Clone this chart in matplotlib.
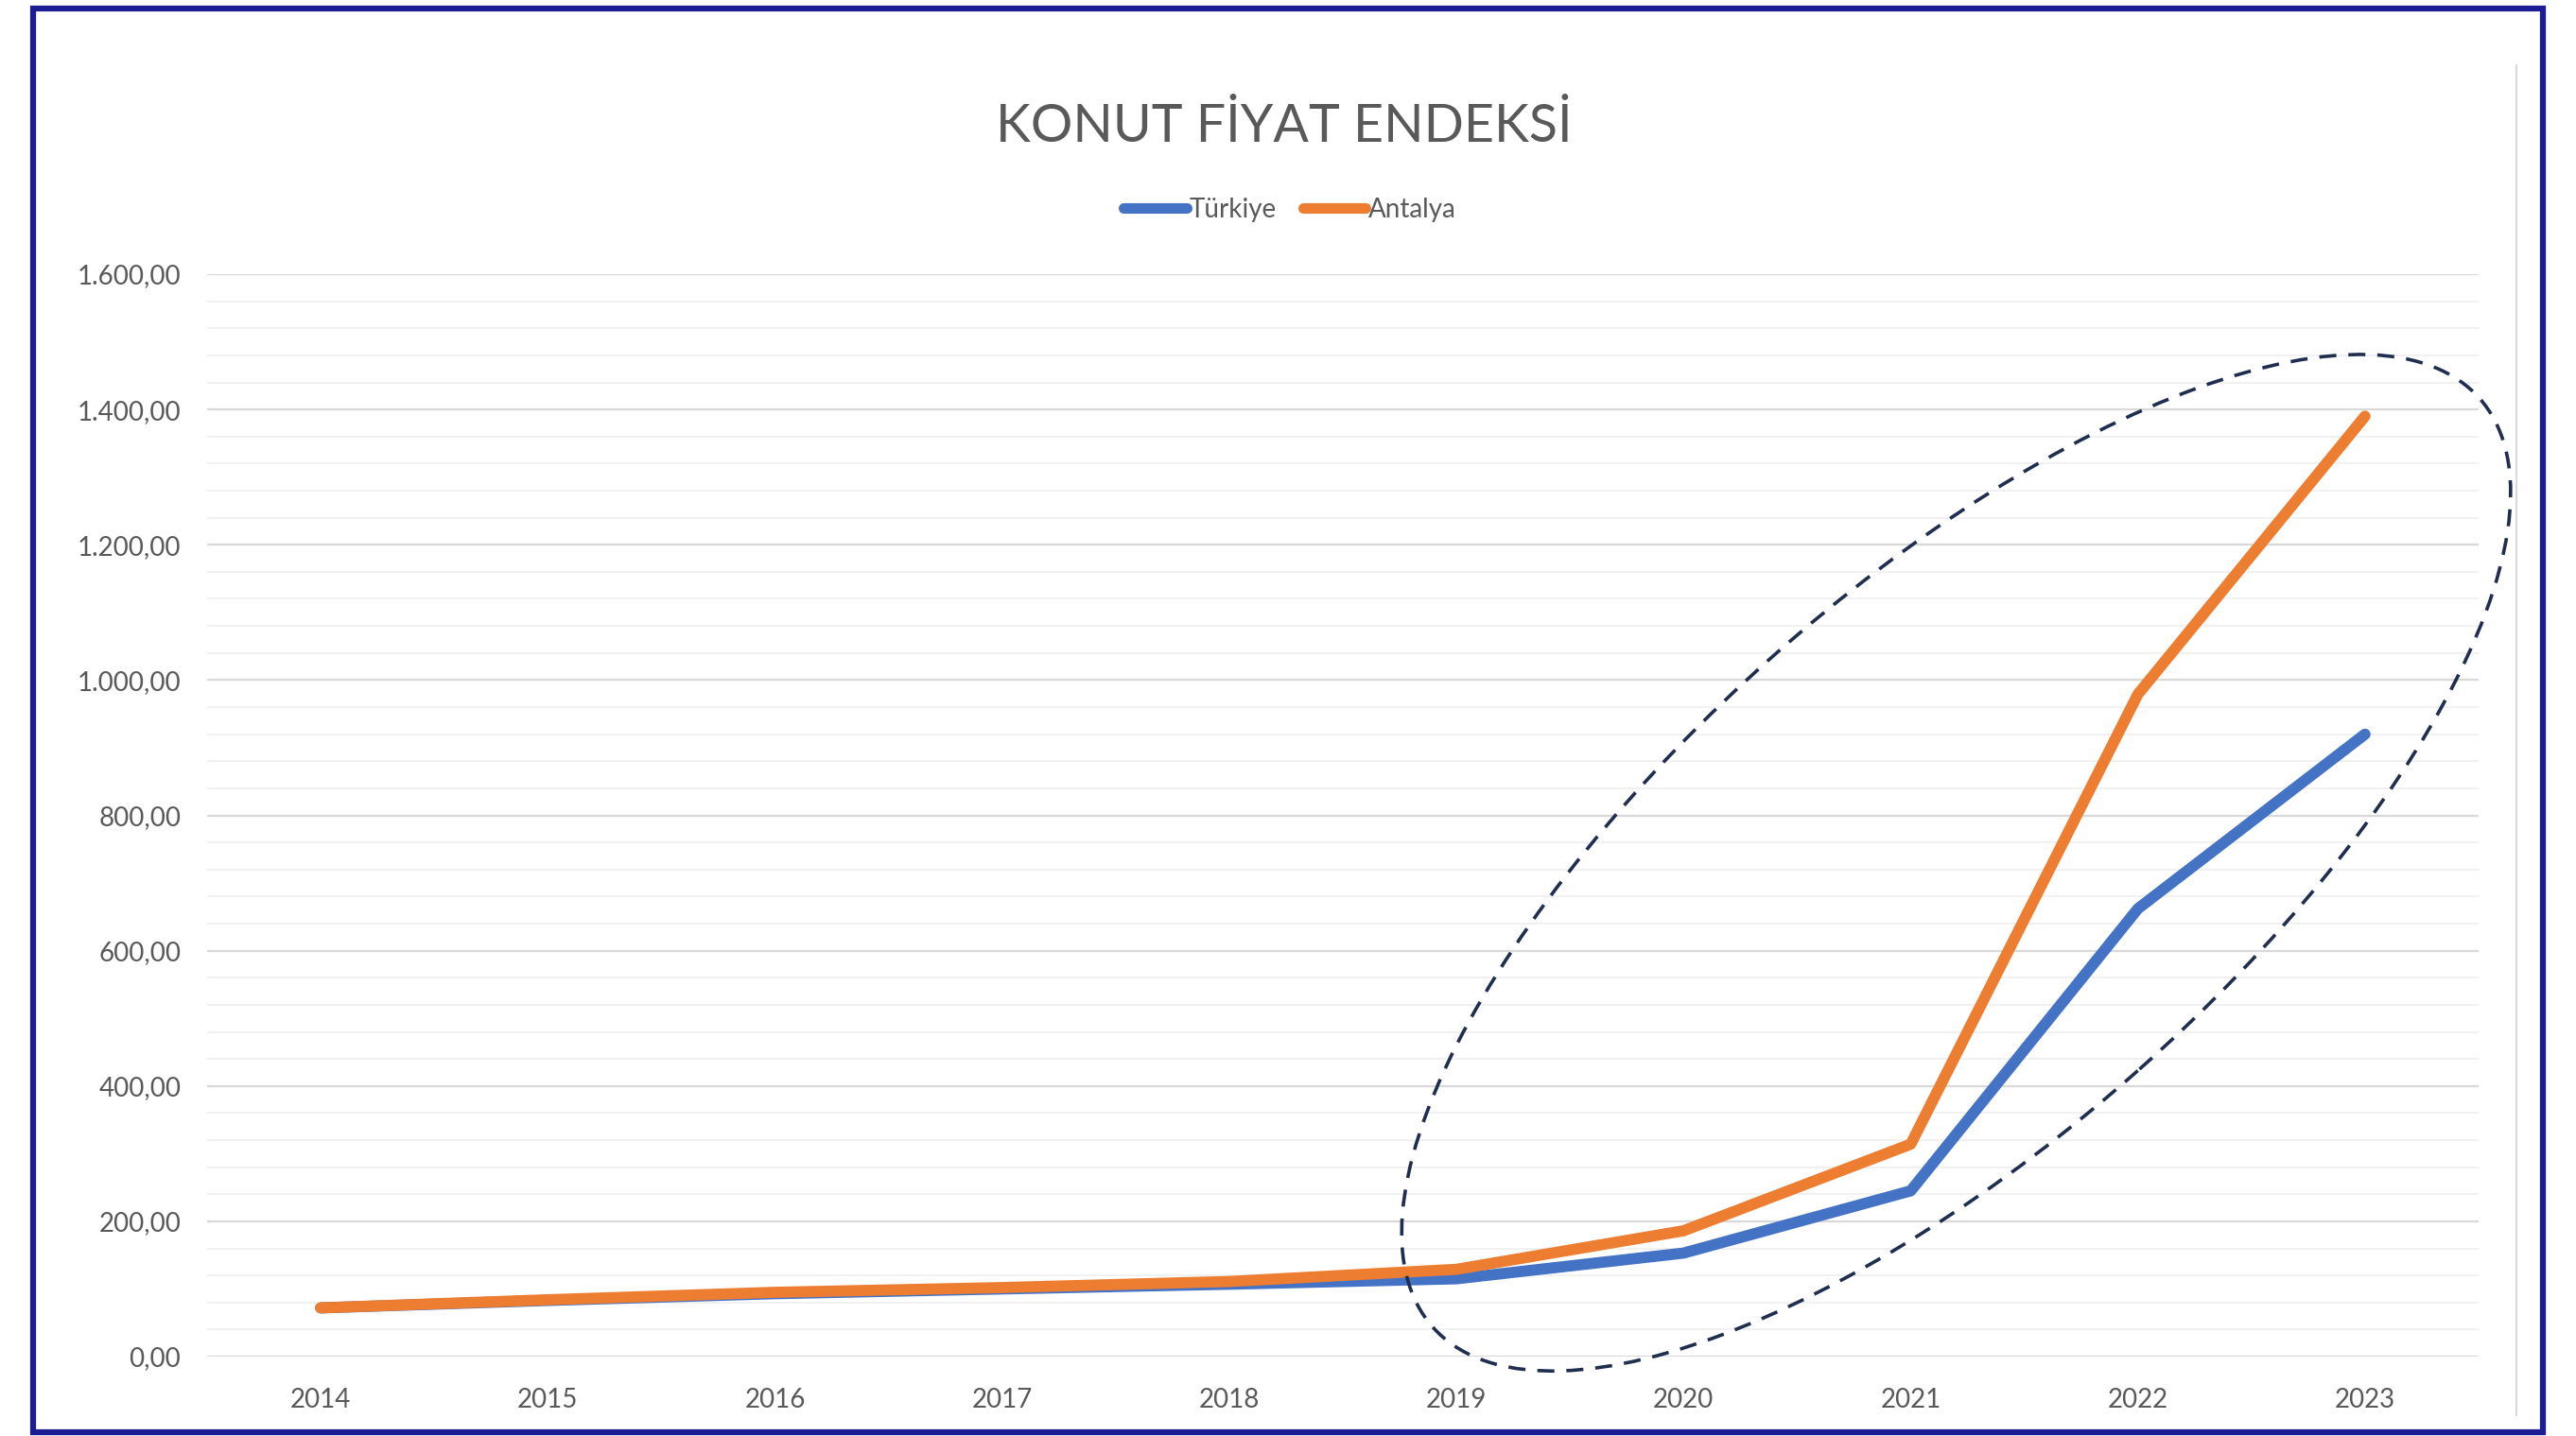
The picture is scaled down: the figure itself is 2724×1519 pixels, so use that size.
import matplotlib.pyplot as plt
import matplotlib.patches as patches
import matplotlib.transforms as mtransforms
from matplotlib.ticker import MultipleLocator, FuncFormatter

# ── Data ─────────────────────────────────────
years = ["2014", "2015", "2016", "2017", "2018", "2019", "2020", "2021", "2022", "2023"]
turkiye = [72, 83, 93, 100, 107, 115, 153, 245, 662, 920]
antalya = [72, 84, 95, 102, 111, 129, 186, 314, 979, 1390]

# ── Style ────────────────────────────────────
plt.rcParams["font.family"] = ["Lato", "DejaVu Sans"]
TEXT = "#595959"
BLUE = "#4472C4"
ORANGE = "#ED7D31"
FRAME = "#1C1C94"

W, H = 2724, 1519
fig = plt.figure(figsize=(W / 100, H / 100), dpi=100)
ax = fig.add_axes([219 / W, 84 / H, (2621 - 219) / W, (1435 - 290) / H])

x = list(range(len(years)))
ax.plot(x, turkiye, color=BLUE, lw=8.5, solid_capstyle="round", solid_joinstyle="round", label="Türkiye", zorder=3)
ax.plot(x, antalya, color=ORANGE, lw=8.5, solid_capstyle="round", solid_joinstyle="round", label="Antalya", zorder=4)

ax.set_xlim(-0.5, len(years) - 0.5)
ax.set_ylim(0, 1600)
ax.set_xticks(x)
ax.set_xticklabels(years)
ax.yaxis.set_major_locator(MultipleLocator(200))
ax.yaxis.set_minor_locator(MultipleLocator(40))
ax.yaxis.set_major_formatter(FuncFormatter(lambda v, p: f"{v:,.2f}".replace(",", "X").replace(".", ",").replace("X", ".")))

ax.grid(axis="y", which="major", color="#D9D9D9", lw=1.6, zorder=0)
ax.grid(axis="y", which="minor", color="#F0F0F0", lw=1.3, zorder=0)
for s in ax.spines.values():
    s.set_visible(False)
ax.tick_params(axis="both", which="both", length=0, labelsize=20, labelcolor=TEXT)
ax.tick_params(axis="x", pad=24)
ax.tick_params(axis="y", pad=20)

# ── Title & Legend ───────────────────────────
fig.text(1358 / W, 1 - 135 / H, "KONUT FİYAT ENDEKSİ", ha="center", va="center", fontsize=40, color=TEXT)
leg = fig.legend(loc="center", bbox_to_anchor=(1364 / W, 1 - 222 / H), ncol=2, frameon=False,
                 fontsize=20, labelcolor=TEXT, handlelength=2.4, handletextpad=0.1, columnspacing=1.0)
for h in leg.get_lines():
    h.set_linewidth(8)

# ── Dashed ellipse highlighting 2019-2023 ────
cx, cy = ax.transData.transform((7.2, 730))
ell = patches.Ellipse((cx, cy), width=2 * 740, height=2 * 292, angle=41.6,
                      transform=mtransforms.IdentityTransform(), fill=False,
                      edgecolor="#1F2D4F", lw=2.6, linestyle=(0, (5, 3.5)), zorder=5)
fig.add_artist(ell)

# ── Side line and outer frame ────────────────
fig.add_artist(plt.Line2D([2661 / W, 2661 / W], [1 - 1497 / H, 1 - 69 / H], color="#D9D9D9", lw=1.5))
fig.add_artist(patches.Rectangle((35 / W, 1 - 1515 / H), (2689 - 35) / W, (1515 - 9) / H,
                                 transform=fig.transFigure, fill=False, edgecolor=FRAME, lw=4.5))

fig.savefig("out.png", dpi=100)
